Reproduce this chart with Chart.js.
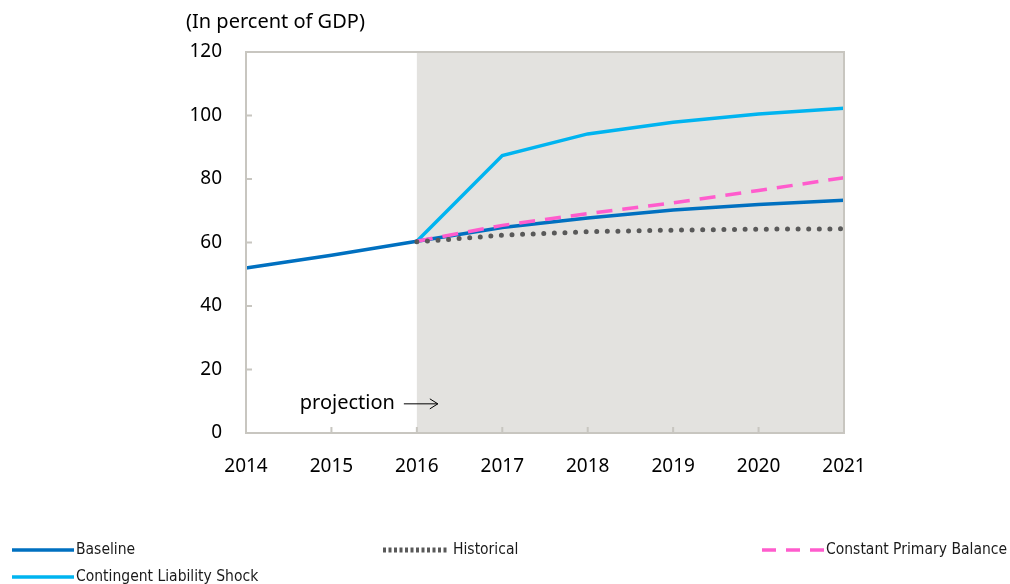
<!DOCTYPE html>
<html lang="en">
  <head>
    <meta charset="UTF-8" />
    <title>Debt scenarios</title>
    <script src="https://cdn.jsdelivr.net/npm/chart.js@4.4.1/dist/chart.umd.min.js"></script>
    <style>
      body { margin: 0; background: #fff; }
      #wrap { width: 1010px; height: 584px; }
    </style>
  </head>
  <body>
    <div id="wrap"><canvas id="myChart" width="1010" height="584"></canvas></div>
    <script>
    const years = ['2014', '2015', '2016', '2017', '2018', '2019', '2020', '2021'];
    const baseline = [52, 56, 60.4, 64.7, 67.7, 70.2, 72, 73.3];
    const contingent = [null, null, 60.4, 87.4, 94.2, 97.9, 100.5, 102.3];
    const historical = [null, null, 60.2, 62.3, 63.4, 63.9, 64.2, 64.3];
    const constantPB = [null, null, 60.4, 65.4, 69.1, 72.5, 76.4, 80.4];
    const yTicks = [0, 20, 40, 60, 80, 100, 120];
    const projectionStart = '2016';

    const font = '"Noto Sans", "Open Sans", sans-serif';
    const legendFont = '15.5px "DejaVu Sans Condensed", "Liberation Sans Narrow", sans-serif';

    const decor = {
      id: 'decor',
      beforeDatasetsDraw(chart) {
        const ctx = chart.ctx, a = chart.chartArea, x = chart.scales.x;
        ctx.save();
        ctx.fillStyle = '#e3e2df';
        const x0 = x.getPixelForValue(years.indexOf(projectionStart));
        ctx.fillRect(x0, a.top, a.right - x0, a.bottom - a.top);
        ctx.restore();
      },
      afterDatasetsDraw(chart) {
        const ctx = chart.ctx, a = chart.chartArea, x = chart.scales.x, y = chart.scales.y;
        ctx.save();
        // frame
        ctx.strokeStyle = '#c8c6c0';
        ctx.lineWidth = 2;
        ctx.strokeRect(a.left, a.top, a.right - a.left, a.bottom - a.top);
        // inward ticks
        ctx.beginPath();
        yTicks.forEach(v => {
          const py = y.getPixelForValue(v);
          ctx.moveTo(a.left, py); ctx.lineTo(a.left + 6, py);
        });
        years.forEach((yr, i) => {
          const px = x.getPixelForValue(i);
          ctx.moveTo(px, a.bottom); ctx.lineTo(px, a.bottom - 6);
        });
        ctx.stroke();

        // projection label and arrow
        const p = x.getPixelForValue(years.indexOf(projectionStart));
        const ly = y.getPixelForValue(9.5);
        ctx.fillStyle = '#000';
        ctx.font = '20px ' + font;
        ctx.textAlign = 'right';
        ctx.textBaseline = 'middle';
        ctx.fillText('projection', p - 22, ly);
        ctx.strokeStyle = '#000';
        ctx.lineWidth = 1;
        ctx.beginPath();
        ctx.moveTo(p - 13, ly + 1); ctx.lineTo(p + 21, ly + 1);
        ctx.moveTo(p + 13, ly - 4); ctx.lineTo(p + 21, ly + 1); ctx.lineTo(p + 13, ly + 6);
        ctx.stroke();

        // title
        ctx.textAlign = 'left';
        ctx.font = '20px ' + font;
        ctx.fillText('(In percent of GDP)', 186, 22);

        // legend
        const items = [
          { ds: 0, x: 12, y: 550 },
          { ds: 1, x: 383, y: 550 },
          { ds: 2, x: 762, y: 550 },
          { ds: 3, x: 12, y: 577 }
        ];
        ctx.font = legendFont;
        items.forEach(it => {
          const d = chart.data.datasets[it.ds];
          const len = it.ds === 1 ? 64 : 62;
          ctx.save();
          ctx.strokeStyle = d.borderColor;
          ctx.lineWidth = it.ds === 1 ? 5 : 3.5;
          ctx.lineCap = 'butt';
          if (it.ds === 1) ctx.setLineDash([3, 2.5]);
          else if (it.ds === 2) ctx.setLineDash([14, 10]);
          ctx.beginPath();
          ctx.moveTo(it.x, it.y); ctx.lineTo(it.x + len, it.y);
          ctx.stroke();
          ctx.restore();
          ctx.fillStyle = '#1a1a1a';
          ctx.textBaseline = 'middle';
          ctx.fillText(d.label, it.x + len + (it.ds === 1 ? 6 : 2), it.y);
        });
        ctx.restore();
      }
    };

    const ctx = document.getElementById('myChart').getContext('2d');
    const myChart = new Chart(ctx, {
      type: 'line',
      data: {
        labels: years,
        datasets: [
          {
            label: 'Baseline',
            data: baseline,
            borderColor: '#0070c0',
            borderWidth: 3.5,
            order: 2
          },
          {
            label: 'Historical',
            data: historical,
            borderColor: '#595959',
            borderWidth: 5,
            borderDash: [0, 10.6],
            borderCapStyle: 'round',
            order: 0
          },
          {
            label: 'Constant Primary Balance',
            data: constantPB,
            borderColor: '#ff5ccd',
            borderWidth: 3.5,
            borderDash: [16, 10],
            order: 1
          },
          {
            label: 'Contingent Liability Shock',
            data: contingent,
            borderColor: '#00b4f0',
            borderWidth: 3.5,
            order: 3
          }
        ]
      },
      options: {
        responsive: false,
        animation: false,
        elements: { point: { radius: 0, hoverRadius: 0 }, line: { tension: 0 } },
        layout: { padding: { left: 0, right: 166, top: 52, bottom: 111 } },
        plugins: { legend: { display: false }, tooltip: { enabled: false } },
        scales: {
          x: {
            offset: false,
            grid: { display: false },
            border: { display: false },
            ticks: { color: '#000', font: { family: font, size: 19 }, padding: 14, maxRotation: 0 },
            afterFit(s) { s.height = 40; }
          },
          y: {
            min: 0,
            max: 120,
            grid: { display: false },
            border: { display: false },
            ticks: { stepSize: 20, color: '#000', font: { family: font, size: 19 }, padding: 16 },
            afterFit(s) { s.width = 246; }
          }
        }
      },
      plugins: [decor]
    });
    </script>
  </body>
</html>
